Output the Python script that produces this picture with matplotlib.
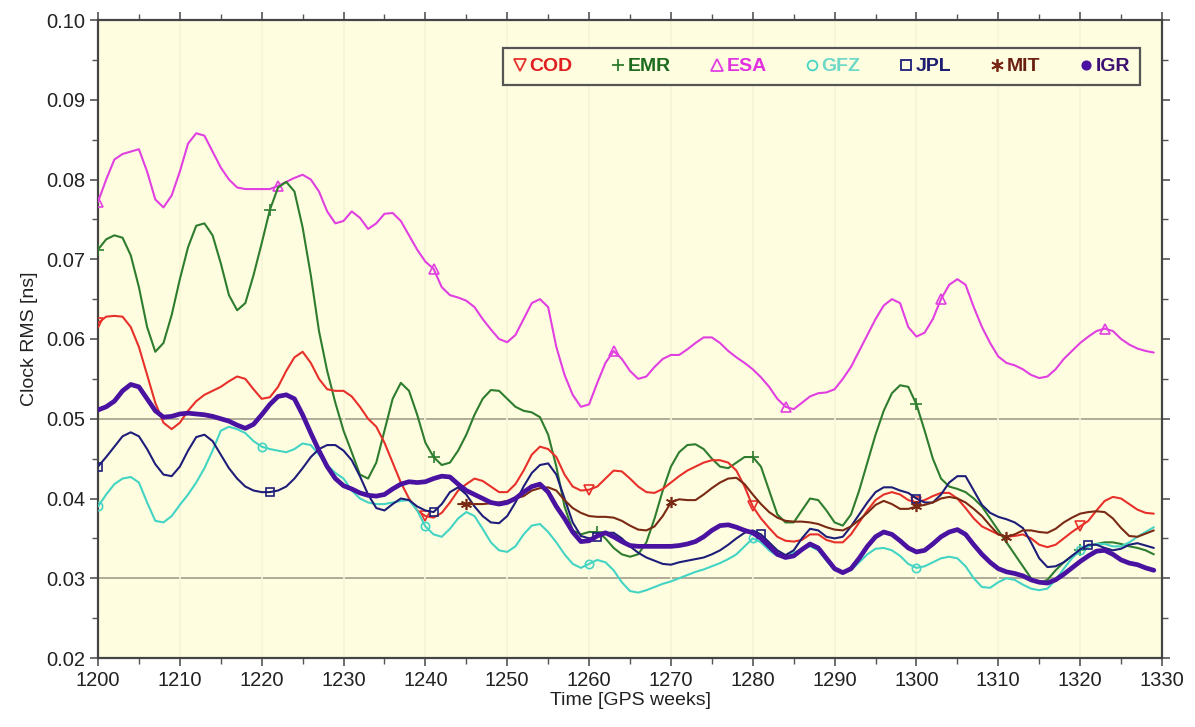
import numpy as np
import matplotlib
matplotlib.use("Agg")
import matplotlib.pyplot as plt
from matplotlib.lines import Line2D
from matplotlib.ticker import MultipleLocator, FormatStrFormatter

plt.rcParams['font.family'] = ['Liberation Sans', 'DejaVu Sans']

weeks = list(range(1200, 1330))
mit_weeks = list(range(1244, 1330))

esa = [0.0772, 0.0800, 0.0825, 0.0832, 0.0835, 0.0838, 0.0810, 0.0775, 0.0765, 0.0780,
       0.0810, 0.0845, 0.0858, 0.0855, 0.0835, 0.0815, 0.0800, 0.0790, 0.0788, 0.0788,
       0.0788, 0.0788, 0.0792, 0.0797, 0.0802, 0.0806, 0.0800, 0.0785, 0.0760, 0.0745,
       0.0748, 0.0760, 0.0752, 0.0738, 0.0745, 0.0757, 0.0758, 0.0748, 0.0730, 0.0712,
       0.0697, 0.0688, 0.0665, 0.0655, 0.0652, 0.0648, 0.0640, 0.0625, 0.0612, 0.0600,
       0.0596, 0.0605, 0.0625, 0.0645, 0.0650, 0.0640, 0.0590, 0.0555, 0.0530, 0.0515,
       0.0518, 0.0545, 0.0570, 0.0585, 0.0575, 0.0560, 0.0550, 0.0553, 0.0565, 0.0575,
       0.0580, 0.0580, 0.0587, 0.0595, 0.0602, 0.0602, 0.0595, 0.0585, 0.0577, 0.0570,
       0.0562, 0.0552, 0.0540, 0.0525, 0.0515, 0.0512, 0.0520, 0.0528, 0.0532, 0.0533,
       0.0537, 0.0550, 0.0565, 0.0585, 0.0605, 0.0625, 0.0642, 0.0650, 0.0645, 0.0615,
       0.0603, 0.0608, 0.0625, 0.0650, 0.0668, 0.0675, 0.0668, 0.0640, 0.0615, 0.0595,
       0.0578, 0.0570, 0.0567, 0.0562, 0.0555, 0.0551, 0.0553, 0.0562, 0.0575, 0.0585,
       0.0595, 0.0603, 0.0610, 0.0613, 0.0610, 0.0600, 0.0593, 0.0588, 0.0585, 0.0583]

emr = [0.0712, 0.0725, 0.0730, 0.0727, 0.0705, 0.0665, 0.0615, 0.0584, 0.0595, 0.0630,
       0.0675, 0.0715, 0.0742, 0.0745, 0.0730, 0.0695, 0.0655, 0.0636, 0.0645, 0.0680,
       0.0720, 0.0762, 0.0790, 0.0797, 0.0785, 0.0740, 0.0680, 0.0610, 0.0560, 0.0520,
       0.0485, 0.0458, 0.0430, 0.0425, 0.0445, 0.0485, 0.0525, 0.0545, 0.0535, 0.0505,
       0.0470, 0.0452, 0.0442, 0.0445, 0.0460, 0.0480, 0.0505, 0.0525, 0.0536, 0.0535,
       0.0525, 0.0515, 0.0510, 0.0508, 0.0502, 0.0480, 0.0440, 0.0390, 0.0360, 0.0355,
       0.0358, 0.0358, 0.0350, 0.0338, 0.0330, 0.0327, 0.0330, 0.0345, 0.0375, 0.0410,
       0.0440, 0.0458, 0.0467, 0.0468, 0.0462, 0.0450, 0.0440, 0.0438, 0.0445, 0.0452,
       0.0452, 0.0440, 0.0410, 0.0380, 0.0370, 0.0370, 0.0385, 0.0400, 0.0398, 0.0385,
       0.0370, 0.0366, 0.0380, 0.0410, 0.0445, 0.0480, 0.0510, 0.0532, 0.0542, 0.0540,
       0.0518, 0.0485, 0.0450, 0.0425, 0.0415, 0.0412, 0.0408, 0.0400, 0.0390, 0.0375,
       0.0360, 0.0345, 0.0330, 0.0315, 0.0300, 0.0294, 0.0298, 0.0310, 0.0320, 0.0328,
       0.0335, 0.0340, 0.0343, 0.0345, 0.0345, 0.0343, 0.0340, 0.0338, 0.0335, 0.0330]

cod = [0.0620, 0.0628, 0.0629, 0.0628, 0.0615, 0.0590, 0.0555, 0.0520, 0.0495, 0.0487,
       0.0495, 0.0510, 0.0522, 0.0530, 0.0535, 0.0540, 0.0547, 0.0553, 0.0550, 0.0537,
       0.0525, 0.0527, 0.0540, 0.0560, 0.0577, 0.0584, 0.0570, 0.0550, 0.0537, 0.0535,
       0.0535, 0.0528, 0.0515, 0.0500, 0.0490, 0.0470, 0.0445, 0.0420, 0.0400, 0.0385,
       0.0378, 0.0376, 0.0382, 0.0395, 0.0410, 0.0418, 0.0425, 0.0422, 0.0415, 0.0408,
       0.0408, 0.0418, 0.0435, 0.0455, 0.0465, 0.0462, 0.0452, 0.0430, 0.0415, 0.0410,
       0.0411, 0.0415, 0.0425, 0.0435, 0.0434, 0.0425, 0.0415, 0.0408, 0.0407, 0.0412,
       0.0420, 0.0428, 0.0435, 0.0440, 0.0445, 0.0448, 0.0448, 0.0445, 0.0435, 0.0415,
       0.0390, 0.0375, 0.0363, 0.0352, 0.0347, 0.0346, 0.0348, 0.0355, 0.0355, 0.0348,
       0.0345, 0.0345, 0.0355, 0.0370, 0.0385, 0.0398, 0.0405, 0.0408, 0.0405, 0.0398,
       0.0395, 0.0398, 0.0403, 0.0407, 0.0407, 0.0400, 0.0388, 0.0375, 0.0365, 0.0360,
       0.0355, 0.0352, 0.0353, 0.0355, 0.0350, 0.0342, 0.0339, 0.0342, 0.0350, 0.0358,
       0.0365, 0.0372, 0.0385, 0.0397, 0.0402, 0.0400, 0.0393, 0.0386, 0.0382, 0.0381]

gfz = [0.0390, 0.0405, 0.0418, 0.0425, 0.0427, 0.0420, 0.0395, 0.0372, 0.0370, 0.0378,
       0.0392, 0.0405, 0.0420, 0.0438, 0.0460, 0.0485, 0.0490, 0.0487, 0.0482, 0.0472,
       0.0465, 0.0462, 0.0460, 0.0458, 0.0462, 0.0469, 0.0467, 0.0455, 0.0442, 0.0432,
       0.0425, 0.0410, 0.0400, 0.0395, 0.0393, 0.0393, 0.0395, 0.0397, 0.0398, 0.0385,
       0.0365, 0.0355, 0.0352, 0.0362, 0.0375, 0.0383, 0.0378, 0.0362, 0.0345, 0.0335,
       0.0333, 0.0340, 0.0355, 0.0366, 0.0368, 0.0358, 0.0345, 0.0330, 0.0318, 0.0313,
       0.0318, 0.0323, 0.0320, 0.0310, 0.0295, 0.0284, 0.0282, 0.0285, 0.0289, 0.0293,
       0.0296, 0.0300, 0.0304, 0.0308, 0.0311, 0.0315, 0.0319, 0.0324, 0.0330, 0.0340,
       0.0350, 0.0345, 0.0335, 0.0328, 0.0327, 0.0332, 0.0337, 0.0340, 0.0335, 0.0322,
       0.0310, 0.0307, 0.0310, 0.0320, 0.0330, 0.0337, 0.0338, 0.0335, 0.0328, 0.0318,
       0.0313, 0.0315, 0.0320, 0.0325, 0.0327, 0.0325, 0.0315, 0.0300, 0.0289, 0.0288,
       0.0295, 0.0300, 0.0298, 0.0292, 0.0287, 0.0285, 0.0287, 0.0298, 0.0312, 0.0325,
       0.0335, 0.0340, 0.0343, 0.0343, 0.0340, 0.0340, 0.0345, 0.0352, 0.0358, 0.0364]

jpl = [0.0440, 0.0452, 0.0465, 0.0478, 0.0483, 0.0478, 0.0462, 0.0443, 0.0430, 0.0428,
       0.0440, 0.0460, 0.0477, 0.0480, 0.0472, 0.0455, 0.0438, 0.0425, 0.0415, 0.0410,
       0.0408, 0.0408, 0.0410, 0.0415, 0.0425, 0.0438, 0.0452, 0.0462, 0.0467, 0.0467,
       0.0460, 0.0448, 0.0428, 0.0405, 0.0388, 0.0385, 0.0393, 0.0400, 0.0398, 0.0390,
       0.0385, 0.0383, 0.0393, 0.0408, 0.0414, 0.0405, 0.0390, 0.0378, 0.0370, 0.0369,
       0.0378, 0.0395, 0.0415, 0.0432, 0.0442, 0.0444, 0.0430, 0.0400, 0.0370, 0.0353,
       0.0350, 0.0352, 0.0357, 0.0357, 0.0350, 0.0340, 0.0332, 0.0326, 0.0322, 0.0318,
       0.0317, 0.0320, 0.0322, 0.0324, 0.0326, 0.0330, 0.0335, 0.0342, 0.0350, 0.0357,
       0.0360, 0.0355, 0.0345, 0.0335, 0.0329, 0.0335, 0.0350, 0.0362, 0.0360, 0.0352,
       0.0350, 0.0352, 0.0365, 0.0380, 0.0395, 0.0408, 0.0414, 0.0414, 0.0410, 0.0407,
       0.0400, 0.0395, 0.0395, 0.0405, 0.0420, 0.0428, 0.0428, 0.0410, 0.0392, 0.0382,
       0.0377, 0.0374, 0.0370, 0.0363, 0.0345, 0.0325, 0.0314, 0.0315, 0.0320, 0.0328,
       0.0336, 0.0342, 0.0342, 0.0338, 0.0335, 0.0337, 0.0342, 0.0344, 0.0341, 0.0338]

mit = [0.0393, 0.0393, 0.0393, 0.0393, 0.0394, 0.0395,
       0.0397, 0.0400, 0.0403, 0.0410, 0.0413, 0.0414, 0.0410, 0.0398, 0.0388, 0.0382,
       0.0378, 0.0377, 0.0377, 0.0376, 0.0372, 0.0366, 0.0361, 0.0360, 0.0365, 0.0378,
       0.0395, 0.0399, 0.0398, 0.0398, 0.0405, 0.0413, 0.0420, 0.0425, 0.0426, 0.0418,
       0.0405, 0.0393, 0.0383, 0.0376, 0.0372, 0.0371, 0.0371, 0.0370, 0.0368, 0.0364,
       0.0361, 0.0360, 0.0365, 0.0373, 0.0382, 0.0392, 0.0397, 0.0393, 0.0387, 0.0387,
       0.0390, 0.0392, 0.0395, 0.0400, 0.0402, 0.0400, 0.0395, 0.0387, 0.0378, 0.0366,
       0.0355, 0.0352, 0.0355, 0.0360, 0.0360, 0.0358, 0.0357, 0.0362, 0.0370, 0.0376,
       0.0381, 0.0383, 0.0384, 0.0383, 0.0375, 0.0363, 0.0353, 0.0352, 0.0356, 0.0360]

igr = [0.0511, 0.0515, 0.0522, 0.0535, 0.0543, 0.0540, 0.0525, 0.0510, 0.0502, 0.0503,
       0.0506, 0.0507, 0.0506, 0.0505, 0.0503, 0.0500, 0.0497, 0.0492, 0.0488, 0.0493,
       0.0505, 0.0518, 0.0528, 0.0530, 0.0525, 0.0505, 0.0482, 0.0460, 0.0440, 0.0425,
       0.0416, 0.0412, 0.0407, 0.0404, 0.0403, 0.0405, 0.0412, 0.0418, 0.0421, 0.0420,
       0.0421, 0.0425, 0.0428, 0.0427, 0.0418, 0.0410, 0.0405, 0.0400, 0.0395, 0.0393,
       0.0395, 0.0400, 0.0408, 0.0415, 0.0418, 0.0408, 0.0390, 0.0375, 0.0358, 0.0346,
       0.0347, 0.0353, 0.0357, 0.0352, 0.0346, 0.0341, 0.0340, 0.0340, 0.0340, 0.0340,
       0.0340, 0.0341, 0.0343, 0.0346, 0.0352, 0.0360, 0.0366, 0.0367, 0.0364, 0.0360,
       0.0357, 0.0350, 0.0340, 0.0330, 0.0326, 0.0328, 0.0336, 0.0343, 0.0338, 0.0325,
       0.0312, 0.0307, 0.0312, 0.0325, 0.0340, 0.0352, 0.0358, 0.0355, 0.0347, 0.0338,
       0.0333, 0.0335, 0.0343, 0.0352, 0.0358, 0.0361, 0.0355, 0.0342, 0.0330, 0.0320,
       0.0312, 0.0308, 0.0306, 0.0303, 0.0298, 0.0295, 0.0294, 0.0298, 0.0305, 0.0313,
       0.0321, 0.0328, 0.0334, 0.0335, 0.0330, 0.0323, 0.0319, 0.0317, 0.0313, 0.0310]

# marker weeks per series
cod_mk = [1200, 1240, 1260, 1280, 1300, 1320]
emr_mk = [1200, 1221, 1241, 1261, 1280, 1300, 1320]
esa_mk = [1200, 1222, 1241, 1263, 1284, 1303, 1323]
gfz_mk = [1200, 1220, 1240, 1260, 1280, 1300, 1320]
jpl_mk = [1200, 1221, 1241, 1261, 1281, 1300, 1321]
mit_mk = [1245, 1270, 1300, 1311]
igr_mk = []

ref_levels = [0.03, 0.05]

ASTER = (6, 2, 0)
series = [
    # name, x, y, color, text color, marker, msize, lw, marker weeks, filled
    ("ESA", weeks, esa, "#e040e0", "#e030e0", "^", 7, 1.5, esa_mk, False),
    ("EMR", weeks, emr, "#2e7d2e", "#1f6b1f", "+", 8, 1.5, emr_mk, True),
    ("COD", weeks, cod, "#e8302a", "#e02020", "v", 7, 1.5, cod_mk, False),
    ("GFZ", weeks, gfz, "#44d4c4", "#6fd8c8", "o", 6, 1.5, gfz_mk, False),
    ("JPL", weeks, jpl, "#1e1e7a", "#1e1e70", "s", 6, 1.5, jpl_mk, False),
    ("MIT", mit_weeks, mit, "#7a2a14", "#6a2010", ASTER, 8, 1.5, mit_mk, True),
    ("IGR", weeks, igr, "#4a12a0", "#3c1070", "o", 5, 3.4, igr_mk, True),
]
legend_order = ["COD", "EMR", "ESA", "GFZ", "JPL", "MIT", "IGR"]

fig = plt.figure(figsize=(11.95, 7.27), dpi=100)
ax = fig.add_axes([98/1195, 1-658/727, 1064/1195, 638/727])
bg = "#fffde0"
ax.set_facecolor(bg)

ax.set_xlim(1200, 1330)
ax.set_ylim(0.02, 0.10)
ax.xaxis.set_major_locator(MultipleLocator(10))
ax.xaxis.set_minor_locator(MultipleLocator(5))
ax.yaxis.set_major_locator(MultipleLocator(0.01))
ax.yaxis.set_minor_locator(MultipleLocator(0.005))
ax.yaxis.set_major_formatter(FormatStrFormatter("%.2f"))
ax.grid(axis="x", which="major", color="#f8f4d6", lw=1.2, zorder=0)
for lv in ref_levels:
    ax.axhline(lv, color="#a9a592", lw=1.3, zorder=1)

ax.tick_params(which="both", direction="out", top=True, right=True,
               color="#555555", labelsize=14.5, labelcolor="#222222")
ax.tick_params(which="major", length=6, width=1.2)
ax.tick_params(which="minor", length=4, width=1.0)
ax.tick_params(axis="y", pad=3)
for s in ax.spines.values():
    s.set_color("#444444")
    s.set_linewidth(1.6)

handles = {}
for name, x, y, col, tcol, mk, ms, lw, mkw, filled in series:
    idx = [x.index(w) for w in mkw]
    mfc = col if filled else "none"
    if idx:
        ax.plot(x, y, color=col, lw=lw, marker=mk, markevery=idx,
                markersize=ms, markerfacecolor=mfc, markeredgecolor=col,
                markeredgewidth=1.2, zorder=3,
                solid_joinstyle="round", solid_capstyle="round")
    else:
        ax.plot(x, y, color=col, lw=lw, zorder=4,
                solid_joinstyle="round", solid_capstyle="round")
    handles[name] = (Line2D([], [], ls="none", marker=mk, markersize=ms + 1,
                            color=col, markerfacecolor=mfc,
                            markeredgewidth=1.3), tcol)

ax.set_xlabel("Time [GPS weeks]", fontsize=14, color="#222222", labelpad=1)
ax.set_ylabel("Clock RMS [ns]", fontsize=14, color="#222222", labelpad=6)

leg = ax.legend([handles[n][0] for n in legend_order], legend_order,
                loc="lower left", bbox_to_anchor=(0.381, 0.898, 0.598, 0.0675),
                mode="expand", ncol=7, frameon=True, fancybox=False,
                handlelength=0.7, handletextpad=0.15, borderaxespad=0,
                columnspacing=0.5, prop={"weight": "bold", "size": 14},
                borderpad=0.5)
leg.get_frame().set_edgecolor("#555555")
leg.get_frame().set_linewidth(1.6)
leg.get_frame().set_facecolor(bg)
leg.get_frame().set_alpha(1)
for t, n in zip(leg.get_texts(), legend_order):
    t.set_color(handles[n][1])

fig.savefig("out.png", dpi=100, facecolor="white")
